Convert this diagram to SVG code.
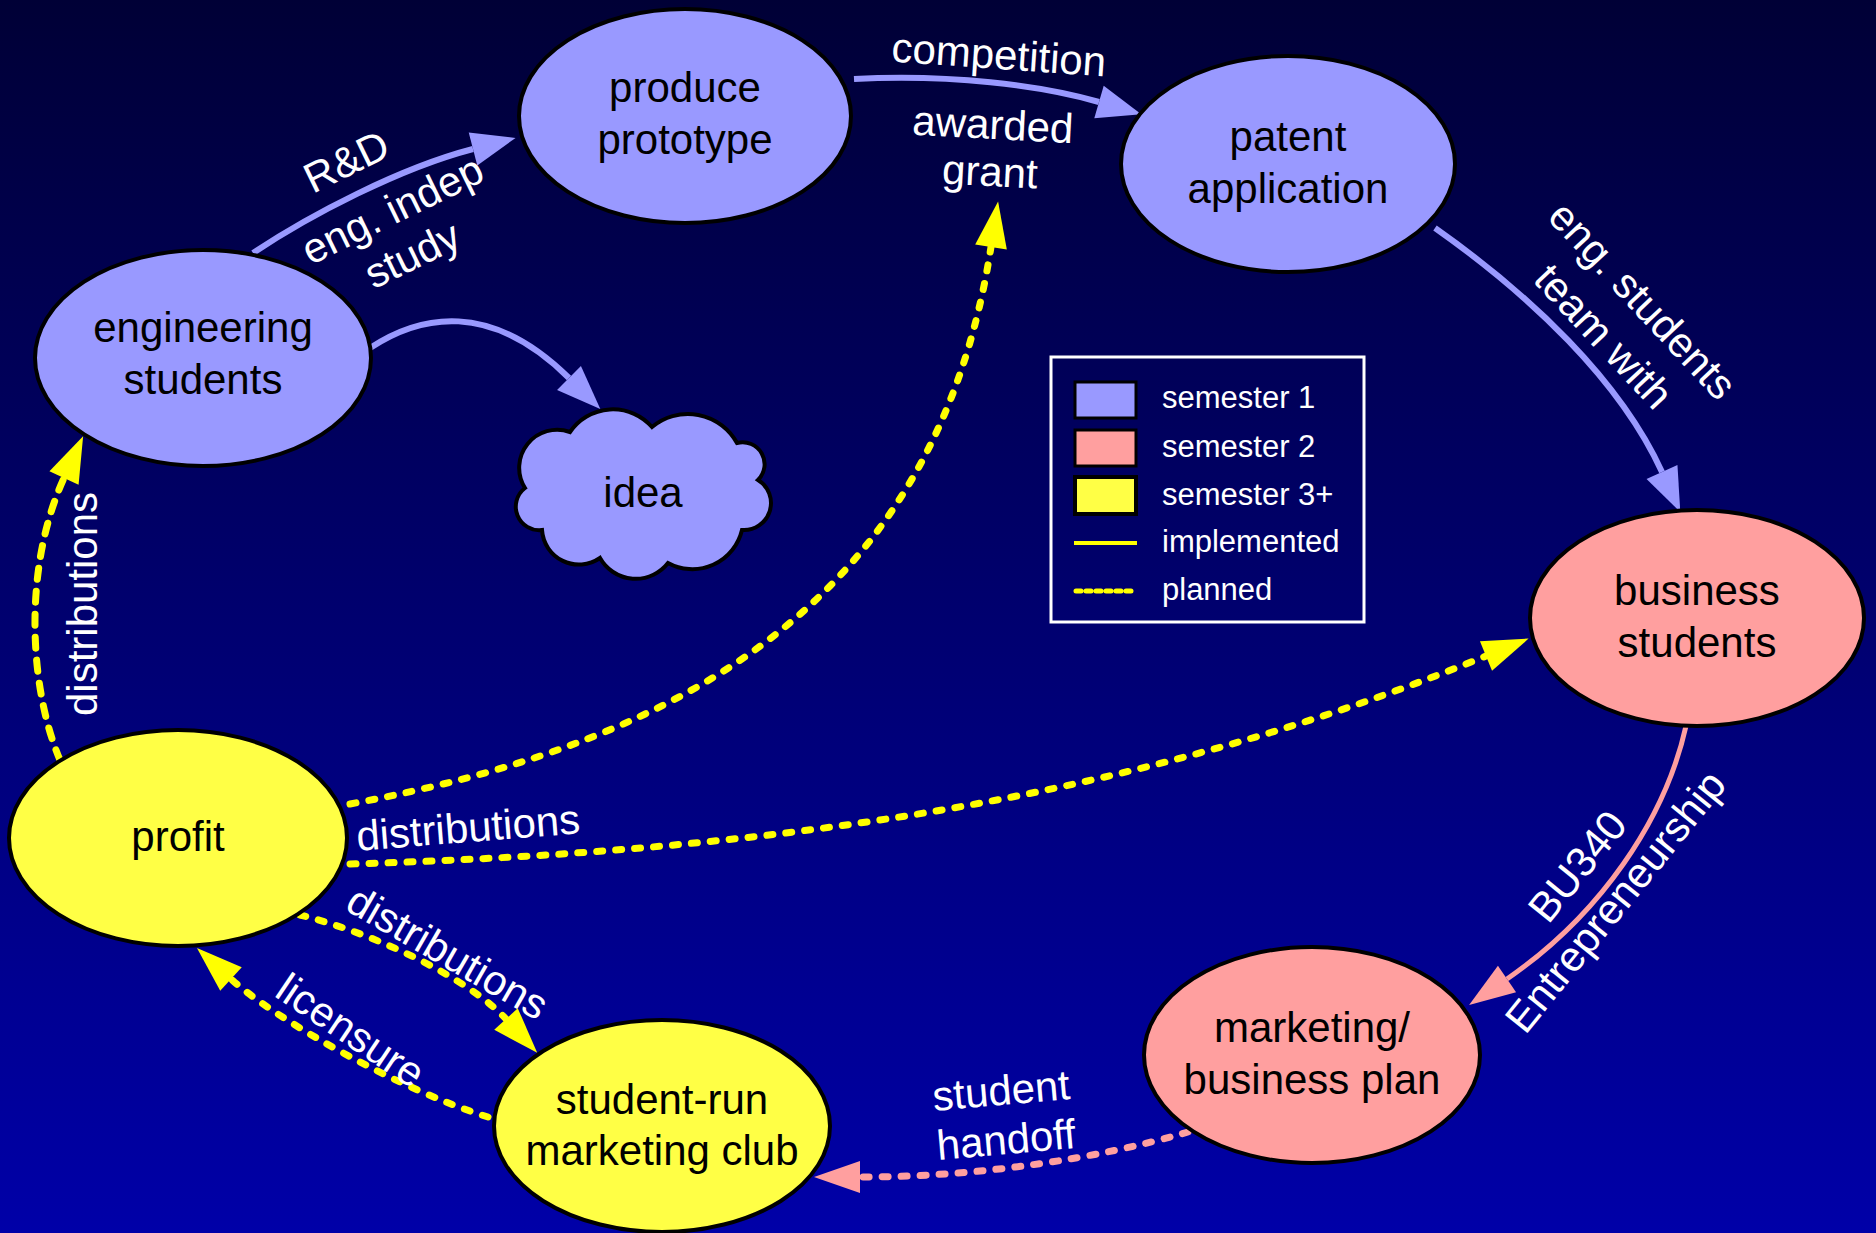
<svg xmlns="http://www.w3.org/2000/svg" width="1876" height="1233" viewBox="0 0 1876 1233">
<defs>
<linearGradient id="bg" x1="0" y1="0" x2="0" y2="1">
<stop offset="0" stop-color="#000036"/>
<stop offset="1" stop-color="#0000a8"/>
</linearGradient>
<marker id="aL" markerUnits="userSpaceOnUse" markerWidth="48" markerHeight="36" refX="0" refY="17" orient="auto" overflow="visible"><path d="M0,0 L44,17 L0,34 z" fill="#9999ff"/></marker>
<marker id="aP" markerUnits="userSpaceOnUse" markerWidth="48" markerHeight="34" refX="0" refY="16" orient="auto" overflow="visible"><path d="M0,0 L46,16 L0,32 z" fill="#ff9f9f"/></marker>
<marker id="aY" markerUnits="userSpaceOnUse" markerWidth="48" markerHeight="34" refX="0" refY="16" orient="auto" overflow="visible"><path d="M0,0 L46,16 L0,32 z" fill="#ffff00"/></marker>
<style>
.node{stroke:#000;stroke-width:4}
.s1{fill:#9999ff}
.s2{fill:#ff9f9f}
.s3{fill:#ffff45}
.nt{font-family:"Liberation Sans",Arial,sans-serif;font-size:42px;fill:#000;text-anchor:middle}
.lt{font-family:"Liberation Sans",Arial,sans-serif;font-size:42px;fill:#fff;text-anchor:middle}
.gt{font-family:"Liberation Sans",Arial,sans-serif;font-size:31px;fill:#fff}
.cl{fill:none;stroke:#9999ff;stroke-width:6;marker-end:url(#aL)}
.cp{fill:none;stroke:#ff9f9f;stroke-width:5;marker-end:url(#aP)}
.cpd{fill:none;stroke:#ff9f9f;stroke-width:7;stroke-dasharray:6 13;stroke-linecap:round;marker-end:url(#aP)}
.cy{fill:none;stroke:#ffff00;stroke-width:7;stroke-dasharray:6 13;stroke-linecap:round;marker-end:url(#aY)}
.cyl{fill:none;stroke:#ffff00;stroke-width:7;stroke-dasharray:11 12;stroke-linecap:round;marker-end:url(#aY)}
</style>
</defs>
<rect x="0" y="0" width="1876" height="1233" fill="url(#bg)"/>

<g id="connectors">
<path class="cl" d="M253,253 C310,215 400,168 473,149"/>
<path class="cl" d="M370,348 C420,315 490,300 569,378"/>
<path class="cl" d="M854,79 C950,74 1040,85 1099,102"/>
<path class="cl" d="M1435,228 C1530,295 1620,380 1662,472"/>
<path class="cp" d="M1686,726 C1665,820 1600,915 1507,979"/>
<path class="cpd" d="M1188,1132 C1100,1158 980,1177 860,1177"/>
<path class="cyl" d="M60,760 C30,690 22,570 64,478"/>
<path class="cy" d="M350,804 C695,740 937,593 991,247"/>
<path class="cy" d="M350,864 C750,852 1116,807 1486,656"/>
<path class="cy" d="M300,915 C380,935 470,980 506,1019"/>
<path class="cy" d="M488,1117 C400,1090 275,1019 231,979"/>
</g>

<g id="labels">
<text class="lt" transform="translate(999,54) rotate(4)" y="15">competition</text>
<text class="lt" transform="translate(993,124) rotate(3)" y="15">awarded</text>
<text class="lt" transform="translate(990,171) rotate(3)" y="15">grant</text>
<text class="lt" transform="translate(346,161) rotate(-26)" y="15">R&amp;D</text>
<text class="lt" transform="translate(392,209) rotate(-26)" y="15">eng. indep</text>
<text class="lt" transform="translate(412,254) rotate(-26)" y="15">study</text>
<text class="lt" transform="translate(1643,300) rotate(47)" y="15">eng. students</text>
<text class="lt" transform="translate(1604,336) rotate(47)" y="15">team with</text>
<text class="lt" transform="translate(1577,866) rotate(-51)" y="15">BU340</text>
<text class="lt" transform="translate(1615,901) rotate(-51)" y="15">Entrepreneurship</text>
<text class="lt" transform="translate(1001,1090) rotate(-5)" y="15">student</text>
<text class="lt" transform="translate(1006,1139) rotate(-5)" y="15">handoff</text>
<text class="lt" transform="translate(82,604) rotate(-90)" y="15">distributions</text>
<text class="lt" transform="translate(468,827) rotate(-4.5)" y="15">distributions</text>
<text class="lt" transform="translate(448,952) rotate(30)" y="15">distributions</text>
<text class="lt" transform="translate(351,1030) rotate(34)" y="15">licensure</text>
</g>

<g id="engineering-students">
<ellipse class="node s1" cx="203" cy="358" rx="168" ry="108"/>
<text class="nt" x="203" y="342">engineering</text>
<text class="nt" x="203" y="394">students</text>
</g>
<g id="produce-prototype">
<ellipse class="node s1" cx="685" cy="116" rx="166" ry="107"/>
<text class="nt" x="685" y="102">produce</text>
<text class="nt" x="685" y="154">prototype</text>
</g>
<g id="patent-application">
<ellipse class="node s1" cx="1288" cy="164" rx="167" ry="108"/>
<text class="nt" x="1288" y="151">patent</text>
<text class="nt" x="1288" y="203">application</text>
</g>
<g id="idea">
<path class="node s1" d="M570,432 A52,52 0 0 1 652,427 A56,56 0 0 1 737,443 A22,22 0 0 1 758,480 A27,27 0 0 1 742,530 A51,51 0 0 1 668,563 A41,41 0 0 1 600,558 A37,37 0 0 1 542,530 A23.5,23.5 0 0 1 525,488 A38,38 0 0 1 570,432 Z"/>
<text class="nt" x="643" y="507">idea</text>
</g>
<g id="business-students">
<ellipse class="node s2" cx="1697" cy="618" rx="167" ry="108"/>
<text class="nt" x="1697" y="605">business</text>
<text class="nt" x="1697" y="657">students</text>
</g>
<g id="marketing-business-plan">
<ellipse class="node s2" cx="1312" cy="1055" rx="168" ry="108"/>
<text class="nt" x="1312" y="1042">marketing/</text>
<text class="nt" x="1312" y="1094">business plan</text>
</g>
<g id="student-run-marketing-club">
<ellipse class="node s3" cx="662" cy="1126" rx="168" ry="106"/>
<text class="nt" x="662" y="1114">student-run</text>
<text class="nt" x="662" y="1165">marketing club</text>
</g>
<g id="profit">
<ellipse class="node s3" cx="178" cy="838" rx="169" ry="108"/>
<text class="nt" x="178" y="851">profit</text>
</g>

<g id="legend">
<rect x="1051" y="357" width="313" height="265" fill="none" stroke="#fff" stroke-width="3"/>
<rect x="1075" y="382" width="61" height="36" class="s1" stroke="#000" stroke-width="3"/>
<rect x="1075" y="430" width="61" height="36" class="s2" stroke="#000" stroke-width="3"/>
<rect x="1075" y="477" width="61" height="37" class="s3" stroke="#000" stroke-width="4"/>
<line x1="1074" y1="543" x2="1137" y2="543" stroke="#ffff00" stroke-width="4"/>
<line x1="1076" y1="591" x2="1136" y2="591" stroke="#ffff00" stroke-width="5" stroke-dasharray="5 5" stroke-linecap="round"/>
<text class="gt" x="1162" y="408">semester 1</text>
<text class="gt" x="1162" y="457">semester 2</text>
<text class="gt" x="1162" y="505">semester 3+</text>
<text class="gt" x="1162" y="552">implemented</text>
<text class="gt" x="1162" y="600">planned</text>
</g>
</svg>
